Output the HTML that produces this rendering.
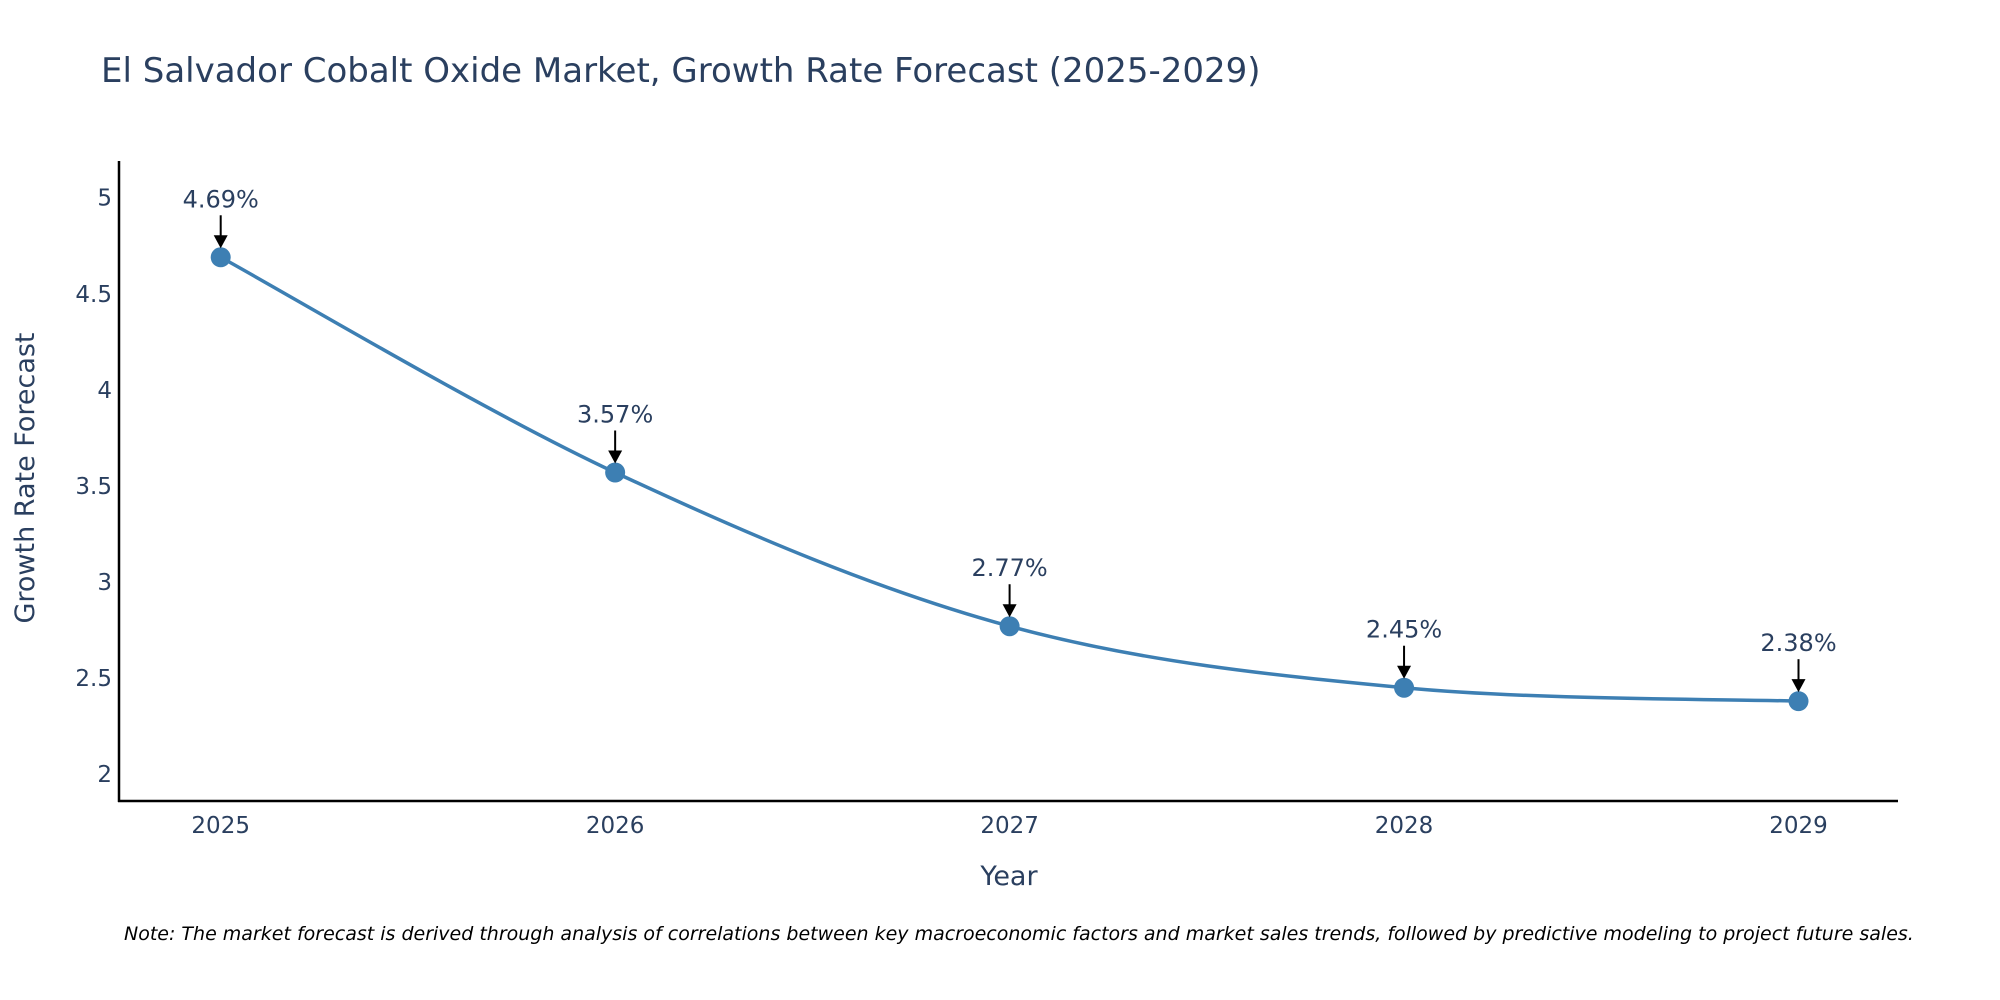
<!DOCTYPE html>
<html><head><meta charset="utf-8"><style>
html,body{margin:0;padding:0;background:#fff;}
svg{display:block;font-family:"DejaVu Sans","Liberation Sans",sans-serif;}
</style></head><body>
<svg id="chart" width="2000" height="1000" viewBox="0 0 2000 1000">
<text x="101" y="82" font-size="34" fill="#2a3f5f">El Salvador Cobalt Oxide Market, Growth Rate Forecast (2025-2029)</text>
<g id="yticks"></g>
<g id="xticks"></g>
<line x1="119" y1="161" x2="119" y2="802" stroke="#000" stroke-width="2.5"/>
<line x1="118" y1="801" x2="1898" y2="801" stroke="#000" stroke-width="2.5"/>
<text transform="translate(34,478) rotate(-90)" text-anchor="middle" font-size="27" fill="#2a3f5f">Growth Rate Forecast</text>
<text x="1009" y="885" text-anchor="middle" font-size="27" fill="#2a3f5f">Year</text>
<g id="series"></g>
<g id="annots"></g>
<text x="124" y="940" font-size="19" font-style="italic" fill="#000">Note: The market forecast is derived through analysis of correlations between key macroeconomic factors and market sales trends, followed by predictive modeling to project future sales.</text>
</svg>
<script>
const years = ["2025","2026","2027","2028","2029"];
const values = [4.69, 3.57, 2.77, 2.45, 2.38];
const labels = ["4.69%","3.57%","2.77%","2.45%","2.38%"];
const yTicks = [2, 2.5, 3, 3.5, 4, 4.5, 5];
const yTickLabels = ["2","2.5","3","3.5","4","4.5","5"];

const NS = "http://www.w3.org/2000/svg";
function xs(i){ return 220.7 + i * (1798.5 - 220.7) / (years.length - 1); }
function ys(v){ return 774.2 - (v - 2) * (774.2 - 197.7) / 3; }
function mk(tag, attrs, parent){ const e = document.createElementNS(NS, tag); for (const k in attrs) e.setAttribute(k, attrs[k]); parent.appendChild(e); return e; }

const yg = document.getElementById('yticks');
yTicks.forEach((t, i) => {
  const el = mk('text', {x: 112, y: ys(t) + 8, 'text-anchor': 'end', 'font-size': 23, fill: '#2a3f5f'}, yg);
  
  
  el.textContent = yTickLabels[i];
});
const xg = document.getElementById('xticks');
years.forEach((y, i) => {
  const el = mk('text', {x: xs(i), y: 833, 'text-anchor': 'middle', 'font-size': 23, fill: '#2a3f5f'}, xg);
  
  
  el.textContent = y;
});

const pts = values.map((v, i) => [xs(i), ys(v)]);
let d = `M${pts[0][0]},${pts[0][1]}`;
const s = 1/6;
for (let i = 0; i < pts.length - 1; i++) {
  const p0 = pts[Math.max(i - 1, 0)], p1 = pts[i], p2 = pts[i + 1], p3 = pts[Math.min(i + 2, pts.length - 1)];
  const c1 = [p1[0] + (p2[0] - p0[0]) * s, p1[1] + (p2[1] - p0[1]) * s];
  const c2 = [p2[0] - (p3[0] - p1[0]) * s, p2[1] - (p3[1] - p1[1]) * s];
  d += ` C${c1[0]},${c1[1]} ${c2[0]},${c2[1]} ${p2[0]},${p2[1]}`;
}
const sg = document.getElementById('series');
const line = mk('path', {d: d, fill: 'none', stroke: '#3d7fb3', 'stroke-width': 3.5}, sg);


pts.forEach(p => {
  const c = mk('circle', {cx: p[0], cy: p[1], r: 10, fill: '#3d7fb3'}, sg);
  
  
});

const ag = document.getElementById('annots');
pts.forEach((p, i) => {
  const t = mk('text', {x: p[0], y: p[1] - 50, 'text-anchor': 'middle', 'font-size': 24, fill: '#2a3f5f'}, ag);
  
  
  t.textContent = labels[i];
  const l = mk('line', {x1: p[0], y1: p[1] - 42, x2: p[0], y2: p[1] - 20, stroke: '#000', 'stroke-width': 2}, ag);
  
  
  const a = mk('polygon', {points: `${p[0]-7},${p[1]-22} ${p[0]+7},${p[1]-22} ${p[0]},${p[1]-9}`, fill: '#000'}, ag);
  
  
});
</script>
</body></html>
